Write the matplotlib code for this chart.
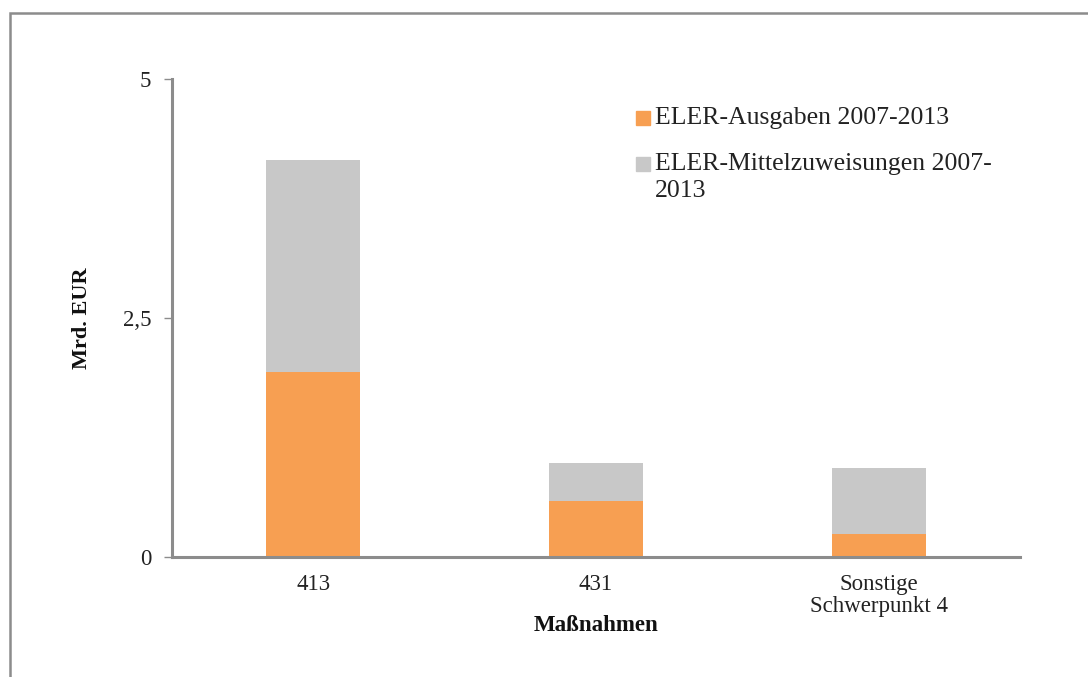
import matplotlib.pyplot as plt
from matplotlib.patches import Rectangle

plt.rcParams['font.family'] = ['Liberation Serif', 'DejaVu Serif']

# daten (Mrd. EUR)
kategorien = ['413', '431', 'Sonstige\nSchwerpunkt 4']
ausgaben = [1.94, 0.59, 0.24]
mittel_gesamt = [4.15, 0.98, 0.93]
rest = [g - a for g, a in zip(mittel_gesamt, ausgaben)]
serien = ['ELER-Ausgaben 2007-2013', 'ELER-Mittelzuweisungen 2007-\n2013']
farben = ['#F79F52', '#C8C8C8']
y_ticks = [0, 2.5, 5]
y_tick_labels = ['0', '2,5', '5']

fig = plt.figure(figsize=(10.88, 6.77), dpi=100)
ax = fig.add_axes([172 / 1088, 1 - 557 / 677, 848 / 1088, 478 / 677])

x = range(len(kategorien))
ax.bar(x, ausgaben, width=0.333, color=farben[0], zorder=2)
ax.bar(x, rest, bottom=ausgaben, width=0.333, color=farben[1], zorder=2)

ax.set_xlim(-0.5, 2.5)
ax.set_ylim(0, 5)
ax.set_yticks(y_ticks)
ax.set_yticklabels(y_tick_labels)
ax.set_xticks(list(x))
ax.set_xticklabels(kategorien, linespacing=1.1)

spine_farbe = '#8C8C8C'
for s in ['top', 'right']:
    ax.spines[s].set_visible(False)
for s in ['left', 'bottom']:
    ax.spines[s].set_color(spine_farbe)
    ax.spines[s].set_linewidth(2.2)
ax.tick_params(axis='y', length=6, width=1, color=spine_farbe, pad=9,
               labelsize=16.5, labelcolor='#222222')
ax.tick_params(axis='x', length=0, pad=12, labelsize=16.5, labelcolor='#222222')

ax.set_ylabel('Mrd. EUR', fontsize=16, fontweight='bold', color='#111111', labelpad=22)
ax.set_xlabel('Maßnahmen', fontsize=16.5, fontweight='bold', color='#111111')
ax.xaxis.set_label_coords(0.5, -0.122)

# legende von hand
leg_y = [118, 164]
for i, (name, farbe) in enumerate(zip(serien, farben)):
    yy = 1 - leg_y[i] / 677
    fig.patches.append(Rectangle((636 / 1088, yy - 7 / 677), 14 / 1088, 14 / 677,
                                 transform=fig.transFigure, color=farbe, figure=fig))
    fig.text(655 / 1088, yy + 11 / 677, name, fontsize=18.5, color='#222222',
             va='top', ha='left', linespacing=1.3)

# rahmen
fig.patches.append(Rectangle((10 / 1088, -0.05), 1.1, 1 - 13 / 677 + 0.05,
                             transform=fig.transFigure, fill=False,
                             edgecolor='#8C8C8C', linewidth=1.8, figure=fig))

fig.savefig('out.png', dpi=100)
